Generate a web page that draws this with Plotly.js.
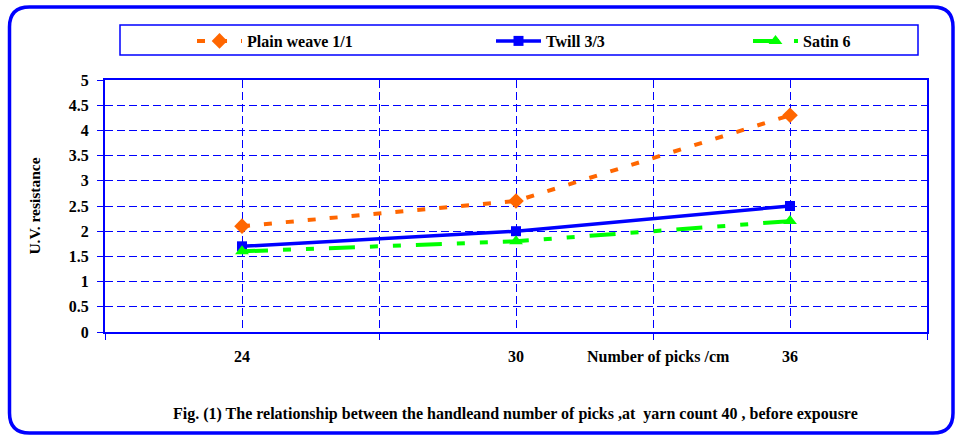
<!DOCTYPE html>
<html>
<head>
<meta charset="utf-8">
<script src="https://cdn.plot.ly/plotly-3.0.1.min.js"></script>
<style>html,body{margin:0;padding:0;background:#fff;}#chart{width:955px;height:436px;}</style>
</head>
<body>
<div id="chart"></div>
<script>
// ---- data ----
const picks = [24, 30, 36];
const plainWeave = [2.1, 2.6, 4.3];
const twill = [1.7, 2.0, 2.5];
const satin = [1.6, 1.8, 2.2];
const seriesNames = ['Plain weave 1/1', 'Twill 3/3', 'Satin 6'];
const tickLabels = ['24', '30', '36'];
const xTitle = 'Number of picks /cm';
const yTitle = 'U.V. resistance';
const caption = 'Fig. (1) The relationship between the handleand number of picks ,at  yarn count 40 , before expousre';

// ---- layout geometry ----
const W = 955, H = 436, L = 105, R = 28, T = 80, B = 104;
const pw = W - L - R, ph = H - T - B;
const fx = p => (p - L) / pw;
const fy = p => (H - B - p) / ph;
const FONT = '"Liberation Serif", "Times New Roman", serif';
const BLUE = '#0000FF';
const f = (s) => ({family: FONT, size: s, color: '#000', weight: 'bold'});

function roundRect(x0, y0, x1, y1, r) {
  return 'M' + fx(x0 + r) + ',' + fy(y0) +
    ' L' + fx(x1 - r) + ',' + fy(y0) +
    ' Q' + fx(x1) + ',' + fy(y0) + ' ' + fx(x1) + ',' + fy(y0 + r) +
    ' L' + fx(x1) + ',' + fy(y1 - r) +
    ' Q' + fx(x1) + ',' + fy(y1) + ' ' + fx(x1 - r) + ',' + fy(y1) +
    ' L' + fx(x0 + r) + ',' + fy(y1) +
    ' Q' + fx(x0) + ',' + fy(y1) + ' ' + fx(x0) + ',' + fy(y1 - r) +
    ' L' + fx(x0) + ',' + fy(y0 + r) +
    ' Q' + fx(x0) + ',' + fy(y0) + ' ' + fx(x0 + r) + ',' + fy(y0) + ' Z';
}

const traces = [
  {x: picks, y: plainWeave, name: seriesNames[0], type: 'scatter', mode: 'lines+markers',
   line: {color: '#FF6600', width: 4, dash: '8px,14px'},
   marker: {symbol: 'diamond', size: 12, color: '#FF6600'}, legend: 'legend'},
  {x: picks, y: twill, name: seriesNames[1], type: 'scatter', mode: 'lines+markers',
   line: {color: BLUE, width: 3.5},
   marker: {symbol: 'square', size: 10, color: BLUE}, legend: 'legend2'},
  {x: picks, y: satin, name: seriesNames[2], type: 'scatter', mode: 'lines+markers',
   line: {color: '#00FF00', width: 4, dash: '26px,15px,8px,15px,8px,15px'},
   marker: {symbol: 'triangle-up', size: 12, color: '#00FF00'}, legend: 'legend3'}
];

const legBase = {
  xref: 'container', yref: 'container', yanchor: 'middle', xanchor: 'left',
  y: 1 - 41 / H, orientation: 'h', bgcolor: 'rgba(0,0,0,0)', borderwidth: 0,
  font: f(16), itemwidth: 45
};

const layout = {
  width: W, height: H,
  margin: {l: L, r: R, t: T, b: B, pad: 0},
  paper_bgcolor: '#fff', plot_bgcolor: '#fff',
  font: f(16),
  showlegend: true,
  legend: Object.assign({}, legBase, {x: 192 / W}),
  legend2: Object.assign({}, legBase, {x: 491 / W}),
  legend3: Object.assign({}, legBase, {x: 748 / W}),
  xaxis: {
    range: [21, 39], tickmode: 'array', tickvals: picks, ticktext: tickLabels,
    ticks: '', showgrid: true, gridcolor: BLUE, gridwidth: 1, griddash: '8px,4px',
    ticklabelstandoff: 9,
    minor: {tick0: 21, dtick: 6, ticks: 'outside', ticklen: 6, tickcolor: BLUE, tickwidth: 1,
            showgrid: true, gridcolor: BLUE, gridwidth: 1, griddash: '8px,4px'},
    showline: true, linecolor: BLUE, linewidth: 2, mirror: true, zeroline: false,
    tickfont: f(16)
  },
  yaxis: {
    range: [0, 5], tick0: 0, dtick: 0.5, ticks: 'outside', ticklen: 6, tickcolor: BLUE, tickwidth: 1,
    showgrid: true, gridcolor: BLUE, gridwidth: 1, griddash: '8px,4px',
    showline: true, linecolor: BLUE, linewidth: 2, mirror: true, zeroline: false,
    ticklabelstandoff: 5,
    tickfont: f(16),
    title: {text: yTitle, standoff: 24, font: f(15.5)}
  },
  shapes: [
    {type: 'path', xref: 'paper', yref: 'paper', path: roundRect(9.5, 7, 953, 433, 20),
     line: {color: BLUE, width: 3.5}, fillcolor: 'rgba(0,0,0,0)', layer: 'above'},
    {type: 'rect', xref: 'paper', yref: 'paper', x0: fx(120), x1: fx(918), y0: fy(25), y1: fy(55),
     line: {color: BLUE, width: 1.5}, fillcolor: 'rgba(0,0,0,0)', layer: 'below'}
  ],
  annotations: [
    {text: xTitle, xref: 'paper', yref: 'paper', x: fx(658.5), y: fy(357), showarrow: false,
     xanchor: 'center', yanchor: 'middle', font: f(16)},
    {text: caption, xref: 'paper', yref: 'paper', x: fx(515), y: fy(414), showarrow: false,
     xanchor: 'center', yanchor: 'middle', font: f(16)}
  ]
};

Plotly.newPlot('chart', traces, layout, {displayModeBar: false, staticPlot: true});
</script>
</body>
</html>
